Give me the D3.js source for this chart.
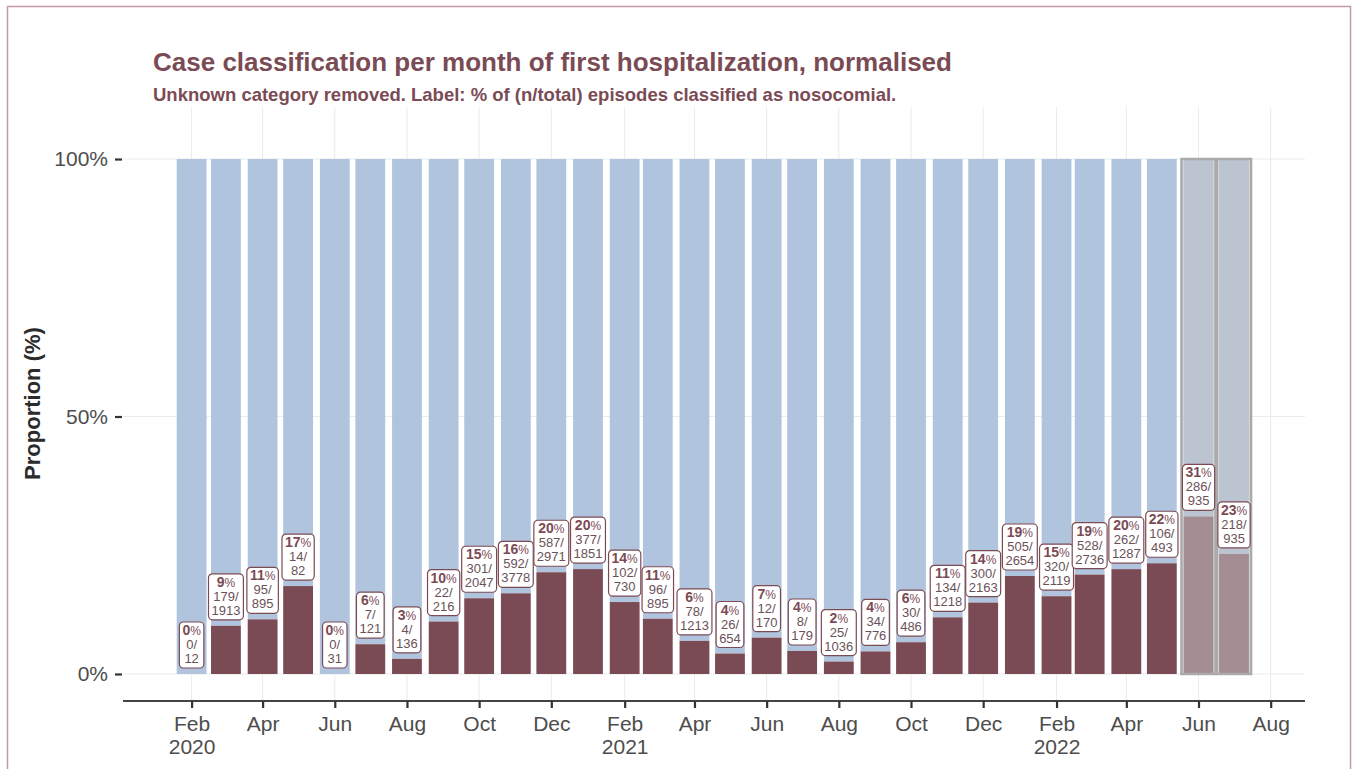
<!DOCTYPE html>
<html>
<head>
<meta charset="utf-8">
<script src="https://cdn.jsdelivr.net/npm/d3@7"></script>
<style>
  body { margin: 0; background: #fff; }
  text { font-family: "Liberation Sans", Arial, Helvetica, sans-serif; }
</style>
</head>
<body>
<div class="canvas"></div>
<script>
/* global d3:true */

/*--------------------------------
  DATA
--------------------------------*/
const months = [
  '2020-02', '2020-03', '2020-04', '2020-05', '2020-06', '2020-07', '2020-08', '2020-09', '2020-10', '2020-11', '2020-12',
  '2021-01', '2021-02', '2021-03', '2021-04', '2021-05', '2021-06', '2021-07', '2021-08', '2021-09', '2021-10', '2021-11', '2021-12',
  '2022-01', '2022-02', '2022-03', '2022-04', '2022-05', '2022-06', '2022-07',
];
// episodes classified as nosocomial
const nosocomial = [
  0, 179, 95, 14, 0, 7, 4, 22, 301, 592, 587,
  377, 102, 96, 78, 26, 12, 8, 25, 34, 30, 134, 300,
  505, 320, 528, 262, 106, 286, 218,
];
// all classified episodes (unknown removed)
const totals = [
  12, 1913, 895, 82, 31, 121, 136, 216, 2047, 3778, 2971,
  1851, 730, 895, 1213, 654, 170, 179, 1036, 776, 486, 1218, 2163,
  2654, 2119, 2736, 1287, 493, 935, 935,
];
// months with incomplete data (greyed out)
const partialMonths = ['2022-06', '2022-07'];

const xTicks = [
  '2020-02', '2020-04', '2020-06', '2020-08', '2020-10', '2020-12',
  '2021-02', '2021-04', '2021-06', '2021-08', '2021-10', '2021-12',
  '2022-02', '2022-04', '2022-06', '2022-08',
];
const yTicks = [0, 0.5, 1];

const titleText = 'Case classification per month of first hospitalization, normalised';
const subtitleText = 'Unknown category removed. Label: % of (n/total) episodes classified as nosocomial.';
const yTitle = 'Proportion (%)';

/*--------------------------------
  SETUP
--------------------------------*/
const width = 1358;
const height = 769;
const panel = {
  left: 123, right: 1305, top: 107, bottom: 700,
};
const maroon = '#7b4b55';
const blue = '#b0c4de';
const DAY = 24 * 3600 * 1000;

const parseMonth = d3.utcParse('%Y-%m');
const data = months.map((m, i) => ({
  date: parseMonth(m),
  n: nosocomial[i],
  total: totals[i],
  prop: nosocomial[i] / totals[i],
  partial: partialMonths.includes(m),
}));

const svg = d3.select('.canvas')
  .append('svg')
  .attr('width', width)
  .attr('height', height);

// outer frame
svg.append('rect')
  .attr('x', 7.5)
  .attr('y', 6.5)
  .attr('width', 1343)
  .attr('height', 800)
  .attr('fill', 'none')
  .attr('stroke', '#c49aa3')
  .attr('stroke-width', 1.5);

// scales
const x = d3.scaleUtc()
  .domain([
    new Date(data[0].date.getTime() - 58 * DAY),
    new Date(data[data.length - 1].date.getTime() + 60 * DAY),
  ])
  .range([panel.left, panel.right]);

const y = d3.scaleLinear()
  .domain([-0.0505, 1.101])
  .range([panel.bottom, panel.top]);

/*--------------------------------
  GRID
--------------------------------*/
const grid = svg.append('g');
grid.selectAll('line.h')
  .data(yTicks)
  .enter()
  .append('line')
  .attr('x1', panel.left)
  .attr('x2', panel.right)
  .attr('y1', d => y(d))
  .attr('y2', d => y(d))
  .attr('stroke', '#ebebeb')
  .attr('stroke-width', 1);

grid.selectAll('line.v')
  .data(xTicks.map(parseMonth))
  .enter()
  .append('line')
  .attr('x1', d => x(d))
  .attr('x2', d => x(d))
  .attr('y1', panel.top)
  .attr('y2', panel.bottom)
  .attr('stroke', '#ebebeb')
  .attr('stroke-width', 1);

/*--------------------------------
  BARS
--------------------------------*/
const halfBar = 0.9 * 28 * DAY / 2;
const barX = d => x(new Date(d.date.getTime() - halfBar));
const barW = d => x(new Date(d.date.getTime() + halfBar)) - barX(d);

const bars = svg.append('g');

bars.selectAll('rect.other')
  .data(data)
  .enter()
  .append('rect')
  .attr('x', barX)
  .attr('width', barW)
  .attr('y', y(1))
  .attr('height', d => y(d.prop) - y(1))
  .attr('fill', blue);

bars.selectAll('rect.noso')
  .data(data)
  .enter()
  .append('rect')
  .attr('x', barX)
  .attr('width', barW)
  .attr('y', d => y(d.prop))
  .attr('height', d => y(0) - y(d.prop))
  .attr('fill', maroon);

// grey overlay for incomplete months
const halfShade = 14.4 * DAY;
bars.selectAll('rect.shade')
  .data(data.filter(d => d.partial))
  .enter()
  .append('rect')
  .attr('x', d => x(new Date(d.date.getTime() - halfShade)))
  .attr('width', d => x(new Date(d.date.getTime() + halfShade)) - x(new Date(d.date.getTime() - halfShade)))
  .attr('y', y(1))
  .attr('height', y(0) - y(1))
  .attr('fill', '#c4c4c4')
  .attr('fill-opacity', 0.55)
  .attr('stroke', '#aaaaaa')
  .attr('stroke-width', 2.5);

/*--------------------------------
  LABELS
--------------------------------*/
const boxH = 46;
const labels = svg.append('g')
  .selectAll('g')
  .data(data)
  .enter()
  .append('g')
  .attr('transform', d => `translate(${x(d.date)}, ${y(d.prop) - 6 - boxH})`);

labels.append('rect')
  .attr('y', 0)
  .attr('height', boxH)
  .attr('rx', 4)
  .attr('fill', '#fff')
  .attr('stroke', maroon)
  .attr('stroke-width', 1.2);

const line1 = labels.append('text')
  .attr('y', 13)
  .attr('text-anchor', 'middle');
line1.append('tspan')
  .attr('font-size', 14)
  .attr('font-weight', 'bold')
  .attr('fill', maroon)
  .text(d => Math.round(d.prop * 100));
line1.append('tspan')
  .attr('font-size', 12)
  .attr('fill', maroon)
  .text('%');

labels.append('text')
  .attr('y', 27)
  .attr('text-anchor', 'middle')
  .attr('font-size', 13)
  .attr('fill', '#6b5258')
  .text(d => `${d.n}/`);

labels.append('text')
  .attr('y', 41)
  .attr('text-anchor', 'middle')
  .attr('font-size', 13)
  .attr('fill', '#6b5258')
  .text(d => d.total);

// size boxes to their widest line
labels.each(function () {
  const g = d3.select(this);
  let w = 0;
  g.selectAll('text').each(function () {
    w = Math.max(w, this.getComputedTextLength());
  });
  g.select('rect')
    .attr('x', -(w / 2 + 3))
    .attr('width', w + 6);
});

/*--------------------------------
  AXES
--------------------------------*/
const fmtMonth = d3.utcFormat('%b');
const xAxis = d3.axisBottom(x)
  .tickValues(xTicks.map(parseMonth))
  .tickSize(7)
  .tickPadding(7)
  .tickFormat(fmtMonth);

const xAxisGroup = svg.append('g')
  .attr('transform', `translate(0, ${panel.bottom + 1})`)
  .call(xAxis);

xAxisGroup.select('.domain')
  .attr('stroke', '#444')
  .attr('stroke-width', 2.2)
  .attr('d', `M${panel.left},0H${panel.right}`);
xAxisGroup.selectAll('.tick line')
  .attr('stroke', '#333')
  .attr('stroke-width', 2.2);
xAxisGroup.selectAll('.tick text')
  .attr('font-size', 21)
  .attr('fill', '#4d4d4d')
  .attr('dy', null)
  .attr('y', 30)
  .each(function (d) {
    if (d.getUTCMonth() === 1) {
      d3.select(this).append('tspan')
        .attr('x', 0)
        .attr('dy', 23)
        .text(d.getUTCFullYear());
    }
  });

const yAxis = d3.axisLeft(y)
  .tickValues(yTicks)
  .tickSize(7)
  .tickPadding(7)
  .tickFormat(d3.format('.0%'));

const yAxisGroup = svg.append('g')
  .attr('transform', `translate(${panel.left - 1}, 0)`)
  .call(yAxis);

yAxisGroup.select('.domain').remove();
yAxisGroup.selectAll('.tick line')
  .attr('stroke', '#333')
  .attr('stroke-width', 2.2);
yAxisGroup.selectAll('.tick text')
  .attr('font-size', 21)
  .attr('fill', '#4d4d4d');

svg.append('text')
  .attr('transform', `translate(40, ${(panel.top + panel.bottom) / 2}) rotate(-90)`)
  .attr('text-anchor', 'middle')
  .attr('font-size', 22)
  .attr('font-weight', 'bold')
  .attr('fill', '#2b2b2b')
  .text(yTitle);

/*--------------------------------
  TITLES
--------------------------------*/
svg.append('text')
  .attr('x', 153)
  .attr('y', 71)
  .attr('font-size', 26)
  .attr('font-weight', 'bold')
  .attr('fill', maroon)
  .text(titleText);

svg.append('text')
  .attr('x', 153)
  .attr('y', 101)
  .attr('font-size', 18.5)
  .attr('font-weight', 'bold')
  .attr('fill', maroon)
  .text(subtitleText);
</script>
</body>
</html>
